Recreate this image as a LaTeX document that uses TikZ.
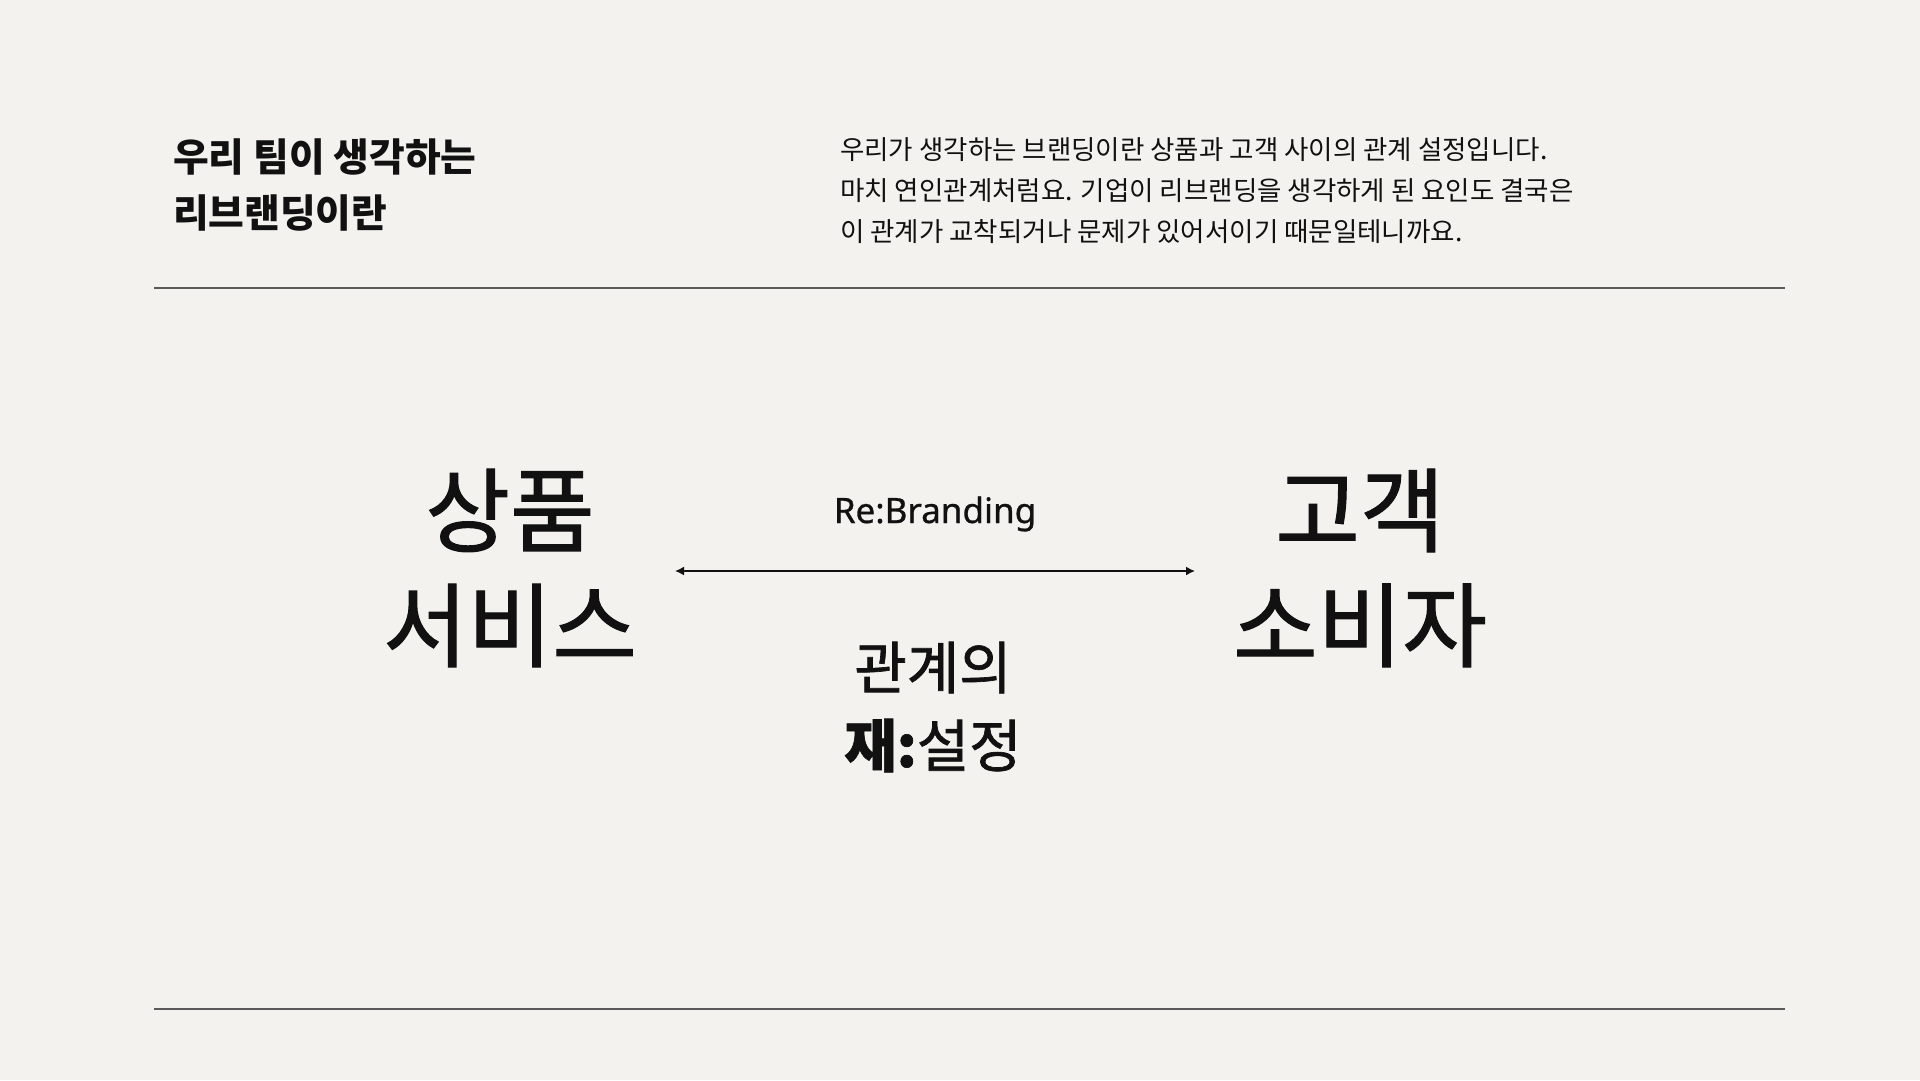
\documentclass[tikz,border=0pt]{standalone}
\usepackage{fontspec}
\setmainfont{Noto Sans CJK KR}
\newfontfamily\latinfont[FakeBold=0.8]{Noto Sans}
\newfontfamily\termfont[FakeBold=1.2]{Noto Sans CJK KR}
\usetikzlibrary{arrows.meta}

\definecolor{paper}{HTML}{F3F2EE}
\definecolor{ink}{HTML}{111111}
\definecolor{rule}{HTML}{5A5A5A}

\begin{document}
\begin{tikzpicture}[x=1pt,y=-1pt,
  every node/.style={inner sep=0pt,text=ink},
  heading/.style={anchor=north west,align=left,font=\fontsize{38.8}{56}\selectfont\bfseries},
  lead/.style={anchor=north west,align=left,font=\fontsize{26.5}{41}\selectfont},
  term/.style={align=center,font=\termfont\fontsize{92}{115}\selectfont},
  tagline/.style={anchor=base,font=\latinfont\fontsize{35}{42}\selectfont},
  reset/.style={align=center,font=\termfont\fontsize{57}{78}\selectfont},
  ruler/.style={draw=rule,line width=2pt},
  link/.style={{Latex[length=9pt,width=9pt]}-{Latex[length=9pt,width=9pt]},line width=1.6pt,draw=ink}]
  % \draw (0, 0) grid (1920, 1080);
  \fill[paper] (0,0) rectangle (1920,1080);

  \node[heading] (title) at (173,139) {우리 팀이 생각하는\\리브랜딩이란};
  \node[lead] (intro) at (840,137) {우리가 생각하는 브랜딩이란 상품과 고객 사이의 관계 설정입니다.\\
    마치 연인관계처럼요. 기업이 리브랜딩을 생각하게 된 요인도 결국은\\
    이 관계가 교착되거나 문제가 있어서이기 때문일테니까요.};

  \draw[ruler] (154,288) -- (1785,288);
  \draw[ruler] (154,1009) -- (1785,1009);

  \node[term] (product) at (510,568) {상품\\서비스};
  \node[term] (customer) at (1360,568) {고객\\소비자};

  \coordinate (left) at (675,571);
  \coordinate (right) at (1195,571);
  \draw[link] (left) -- (right);

  \node[tagline] (rebrand) at (935,523) {Re:Branding};
  \node[reset] (relation) at (933,707) {관계의\\{\bfseries 재:}설정};
\end{tikzpicture}
\end{document}
